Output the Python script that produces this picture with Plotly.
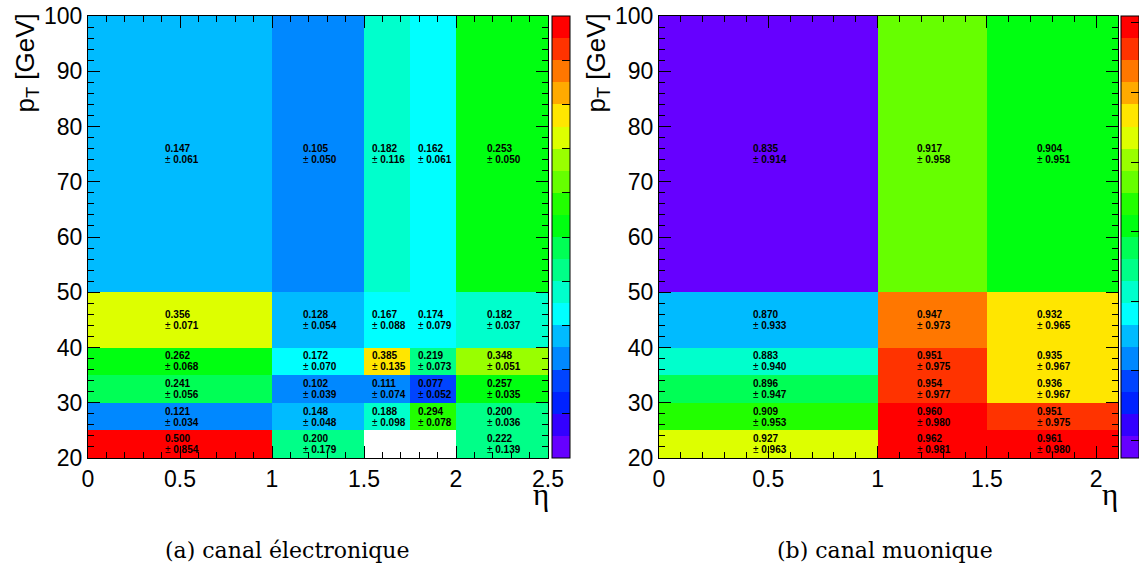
import plotly.graph_objects as go

# ---------------- data ----------------
pt_edges = [20, 25, 30, 35, 40, 50, 100]

# electron channel
ele_eta_edges = [0, 1, 1.5, 1.75, 2, 2.5]
ele_val = [
    [0.500, 0.200, None, None, 0.222],
    [0.121, 0.148, 0.188, 0.294, 0.200],
    [0.241, 0.102, 0.111, 0.077, 0.257],
    [0.262, 0.172, 0.385, 0.219, 0.348],
    [0.356, 0.128, 0.167, 0.174, 0.182],
    [0.147, 0.105, 0.182, 0.162, 0.253],
]
ele_err = [
    [0.854, 0.179, None, None, 0.139],
    [0.034, 0.048, 0.098, 0.078, 0.036],
    [0.056, 0.039, 0.074, 0.052, 0.035],
    [0.068, 0.070, 0.135, 0.073, 0.051],
    [0.071, 0.054, 0.088, 0.079, 0.037],
    [0.061, 0.050, 0.116, 0.061, 0.050],
]

# muon channel
mu_eta_edges = [0, 1, 1.5, 2.1]
mu_val = [
    [0.927, 0.962, 0.961],
    [0.909, 0.960, 0.951],
    [0.896, 0.954, 0.936],
    [0.883, 0.951, 0.935],
    [0.870, 0.947, 0.932],
    [0.835, 0.917, 0.904],
]
mu_err = [
    [0.963, 0.981, 0.980],
    [0.953, 0.980, 0.975],
    [0.947, 0.977, 0.967],
    [0.940, 0.975, 0.967],
    [0.933, 0.973, 0.965],
    [0.914, 0.958, 0.951],
]

ele_zrange = [0.0, 0.5]
mu_zrange = [0.835, 0.962]

captions = ["(a) canal électronique", "(b) canal muonique"]

# ROOT-like 20-band palette (bottom -> top)
palette = [
    "#6600ff", "#3300ff", "#0022ff", "#0044ff", "#0088ff",
    "#00bbff", "#00ffff", "#00ffcc", "#00ff88", "#00ff55",
    "#00ff11", "#22ff00", "#66ff00", "#99ff00", "#ddff00",
    "#ffe600", "#ffaa00", "#ff7700", "#ff3300", "#ff0000",
]
n = len(palette)
cscale = []
for i, c in enumerate(palette):
    cscale.append([i / n, c])
    cscale.append([(i + 1) / n, c])

W, H = 1139, 577
def px_x(p):
    return p / W
def px_y(p):
    return 1 - p / H

y_dom = [px_y(458), px_y(16)]
left_dom = [px_x(88), px_x(548)]
right_dom = [px_x(659), px_x(1118)]

fig = go.Figure()

cb_common = dict(
    yanchor="top", y=px_y(16),
    len=442, lenmode="pixels", thickness=18, thicknessmode="pixels",
    xpad=0, ypad=0, outlinewidth=1, outlinecolor="black",
    showticklabels=False, ticks="inside", ticklen=8, tickcolor="black",
)

fig.add_trace(go.Heatmap(
    x=ele_eta_edges, y=pt_edges, z=ele_val,
    zmin=ele_zrange[0], zmax=ele_zrange[1], colorscale=cscale,
    xaxis="x", yaxis="y", hoverongaps=False,
    colorbar=dict(x=px_x(552), xanchor="left", tick0=0, dtick=0.05, **cb_common),
))
fig.add_trace(go.Heatmap(
    x=mu_eta_edges, y=pt_edges, z=mu_val,
    zmin=mu_zrange[0], zmax=mu_zrange[1], colorscale=cscale,
    xaxis="x2", yaxis="y2", hoverongaps=False,
    colorbar=dict(x=px_x(1121), xanchor="left", tick0=0.84, dtick=0.02, **cb_common),
))

annotations = []
cell_font = dict(family="Liberation Sans, Arial", size=10, color="black")

def add_text(edges_x, vals, errs, xref, yref):
    for r in range(len(pt_edges) - 1):
        yc = 0.5 * (pt_edges[r] + pt_edges[r + 1])
        for c in range(len(edges_x) - 1):
            v = vals[r][c]
            if v is None:
                continue
            xc = 0.5 * (edges_x[c] + edges_x[c + 1])
            annotations.append(dict(
                x=xc, y=yc, xref=xref, yref=yref, showarrow=False,
                text=f"<b>{v:.3f}</b>", xanchor="left", yanchor="middle",
                xshift=-17, yshift=5.5, font=cell_font,
            ))
            annotations.append(dict(
                x=xc, y=yc, xref=xref, yref=yref, showarrow=False,
                text=f"± <b>{errs[r][c]:.3f}</b>", xanchor="left", yanchor="middle",
                xshift=-17, yshift=-5.5, font=cell_font,
            ))

add_text(ele_eta_edges, ele_val, ele_err, "x", "y")
add_text(mu_eta_edges, mu_val, mu_err, "x2", "y2")

# axis titles (ROOT style, aligned at axis ends)
for xp in [26, 597]:
    annotations.append(dict(
        x=px_x(xp), y=px_y(12), xref="paper", yref="paper", showarrow=False,
        text="p<sub>T</sub> [GeV]", textangle=-90, xanchor="center", yanchor="top",
        font=dict(family="Liberation Sans, Arial", size=26, color="black"),
    ))
for xp in [541, 1110]:
    annotations.append(dict(
        x=px_x(xp), y=px_y(494), xref="paper", yref="paper", showarrow=False,
        text="η", xanchor="center", yanchor="middle",
        font=dict(family="Liberation Serif, DejaVu Serif", size=31, color="black"),
    ))
for xp, cap in zip([287, 885], captions):
    annotations.append(dict(
        x=px_x(xp), y=px_y(550), xref="paper", yref="paper", showarrow=False,
        text=cap, xanchor="center", yanchor="middle",
        font=dict(family="DejaVu Serif", size=22, color="black"),
    ))

axis_font = dict(family="Liberation Sans, Arial", size=23, color="black")
common_x = dict(
    showgrid=False, zeroline=False, showline=True, linecolor="black", linewidth=1,
    mirror="allticks", ticks="inside", ticklen=12, tickcolor="black",
    tick0=0, dtick=0.5, tickfont=axis_font, automargin=False,
    minor=dict(ticks="inside", ticklen=6, dtick=0.1, tickcolor="black", showgrid=False),
)
common_y = dict(
    showgrid=False, zeroline=False, showline=True, linecolor="black", linewidth=1,
    mirror="allticks", ticks="inside", ticklen=12, tickcolor="black",
    tick0=20, dtick=10, tickfont=axis_font, range=[20, 100], automargin=False,
    minor=dict(ticks="inside", ticklen=6, dtick=2, tickcolor="black", showgrid=False),
    domain=y_dom,
)

fig.update_layout(
    width=W, height=H, margin=dict(l=0, r=0, t=0, b=0, autoexpand=False),
    paper_bgcolor="white", plot_bgcolor="white",
    xaxis=dict(domain=left_dom, range=[0, 2.5], anchor="y", **common_x),
    yaxis=dict(anchor="x", **common_y),
    xaxis2=dict(domain=right_dom, range=[0, 2.1], anchor="y2", **common_x),
    yaxis2=dict(anchor="x2", **common_y),
    annotations=annotations,
    showlegend=False,
)

fig.write_html(
    "out.html",
    config={"displayModeBar": False},
    post_script="document.body.style.margin='0px';document.body.style.overflow='hidden';",
)
